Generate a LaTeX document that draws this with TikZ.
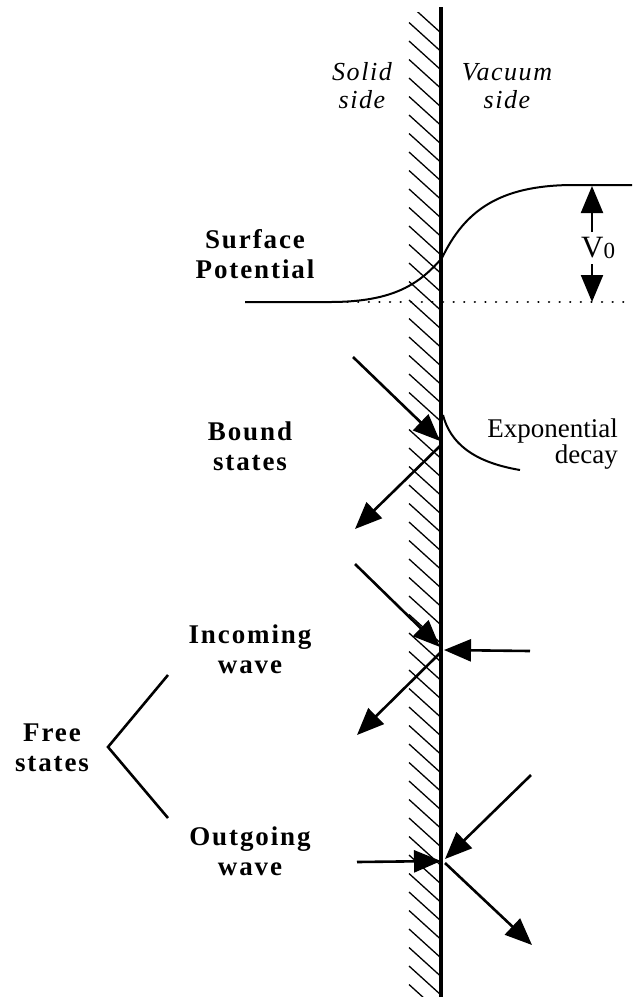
\documentclass[tikz,border=0pt]{standalone}
\usepackage{fontspec}
\setmainfont{Liberation Serif}
\newfontfamily\boldlab[LetterSpace=7]{Liberation Serif}
\newfontfamily\itlab[LetterSpace=6]{Liberation Serif}
\usetikzlibrary{arrows.meta}
\begin{document}
\begin{tikzpicture}[x=1pt,y=-1pt,
  tipa/.style={-{Triangle[length=27pt,width=22pt]}},
  ray/.style={line width=2.6pt, tipa},
  vray/.style={line width=2.2pt, tipa},
  curve/.style={line width=2pt},
  hatchline/.style={line width=1.3pt},
  lab/.style={font=\boldlab\bfseries\fontsize{27}{30}\selectfont, align=center, inner sep=0pt},
  sidelab/.style={font=\itlab\itshape\fontsize{26}{28}\selectfont, align=center, inner sep=0pt},
  plain/.style={font=\fontsize{27}{26}\selectfont, inner sep=0pt}]
\useasboundingbox (0,0) rectangle (640,997);
\fill[white] (0,0) rectangle (640,997);

% hatching on the solid side
\begin{scope}
  \clip (405,12) rectangle (441,997);
  \foreach \k in {0,...,55}
    \draw[hatchline] (409,{4+18.5*\k}) -- ++(32,29);
\end{scope}

% wall
\coordinate (wtop) at (441,7);
\coordinate (wbot) at (441,997);
\draw[line width=4pt] (wtop) -- (wbot);

% side labels
\node[sidelab] (solid) at (362,86) {Solid\\side};
\node[sidelab] (vacuum) at (507,86) {Vacuum\\side};

% surface potential
\coordinate (p0) at (245,302);
\coordinate (p1) at (330,302);
\coordinate (pw) at (442,258);
\coordinate (p2) at (570,185);
\coordinate (p3) at (632,185);
\draw[curve] (p0) -- (p1) .. controls (395,302) and (420,283) .. (pw)
  .. controls (465,210) and (500,186) .. (p2) -- (p3);
\coordinate (d0) at (337,302);
\coordinate (d1) at (632,302);
\draw[line width=2.4pt, line cap=round, dash pattern=on 0.1pt off 10.5pt] (d0) -- (d1);
\node[lab] (surf) at (255,254) {Surface\\Potential};

% V0
\coordinate (vtop) at (592,186);
\coordinate (vbot) at (592,302);
\coordinate (vs1) at (592,232);
\coordinate (vs2) at (592,264);
\draw[vray] (vs1) -- (vtop);
\draw[vray] (vs2) -- (vbot);
\node[anchor=base west, inner sep=0pt, font=\fontsize{31}{31}\selectfont] (v0) at (581,257)
  {V\fontsize{23}{23}\selectfont\raisebox{-1pt}{0}};

% bound states
\coordinate (b0) at (353,357);
\coordinate (b1) at (440,441);
\coordinate (b2) at (440,446);
\coordinate (b3) at (355,529);
\draw[ray] (b0) -- (b1);
\draw[ray] (b2) -- (b3);
\coordinate (e0) at (443,415);
\coordinate (e1) at (520,470);
\draw[curve] (e0) .. controls (450,442) and (472,462) .. (e1);
\node[plain, anchor=east, align=right] (exp) at (618,444) {Exponential\\decay};
\node[lab] (bound) at (250,446) {Bound\\states};

% incoming wave
\coordinate (i0) at (355,564);
\coordinate (i1) at (440,647);
\coordinate (i2) at (530,651);
\coordinate (i3) at (444,650);
\coordinate (i4) at (440,653);
\coordinate (i5) at (357,735);
\draw[ray] (i0) -- (i1);
\draw[ray] (i2) -- (i3);
\draw[ray] (i4) -- (i5);
\node[lab] (inc) at (250,649) {Incoming\\wave};

% outgoing wave
\coordinate (o0) at (357,862);
\coordinate (o1) at (441,861);
\coordinate (o2) at (531,775);
\coordinate (o3) at (445,859);
\coordinate (o4) at (445,863);
\coordinate (o5) at (532,945);
\draw[ray] (o0) -- (o1);
\draw[ray] (o2) -- (o3);
\draw[ray] (o4) -- (o5);
\node[lab] (out) at (250,851) {Outgoing\\wave};

% free states bracket
\node[lab] (free) at (52,748) {Free\\states};
\coordinate (k0) at (168,675);
\coordinate (k1) at (108,747);
\coordinate (k2) at (168,818);
\draw[line width=2.6pt] (k0) -- (k1) -- (k2);
\end{tikzpicture}
\end{document}
